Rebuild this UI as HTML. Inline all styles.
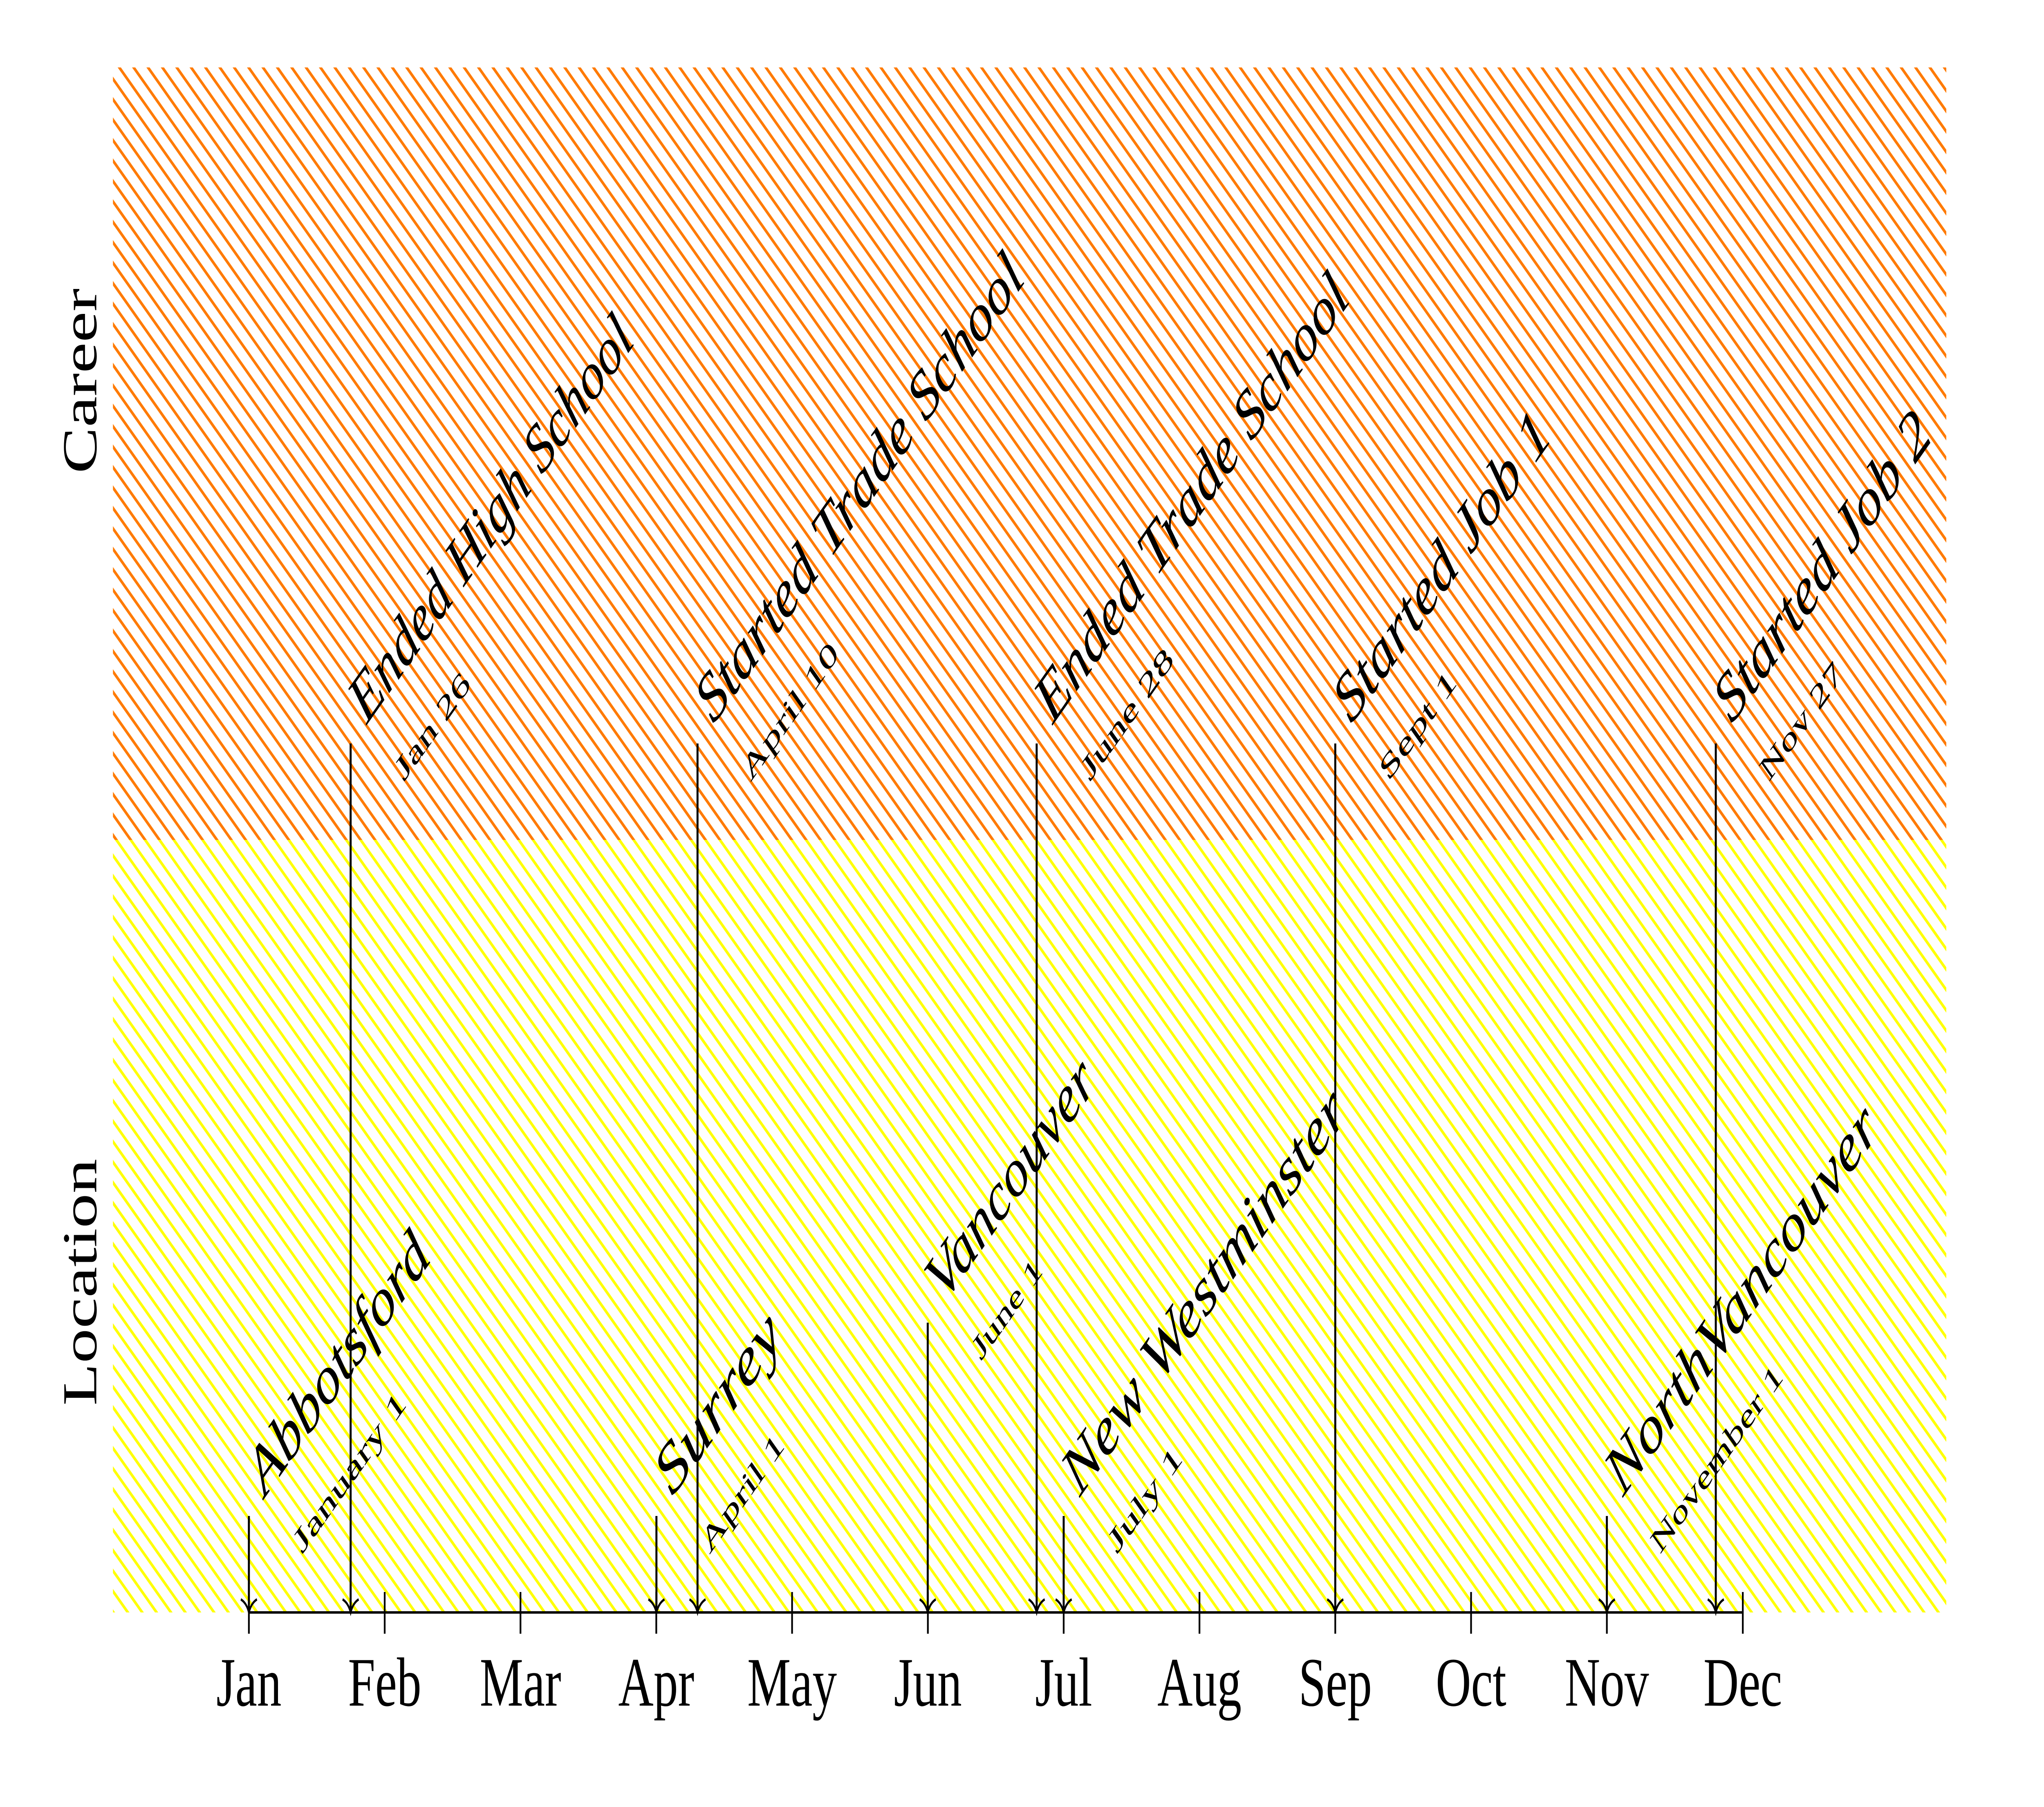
<!DOCTYPE html>
<html><head><meta charset="utf-8"><style>
html,body{margin:0;padding:0;background:#fff;width:100%;height:100%;overflow:hidden;}
svg{display:block;position:fixed;left:0;top:0;width:100vw;height:100vh;}
.m{font-family:"Liberation Serif",serif;font-style:italic;font-size:165px;fill:#000;}
.d{font-family:"Liberation Serif",serif;font-size:82px;fill:#000;}
.ax{font-family:"Liberation Serif",serif;font-size:170px;fill:#000;}
</style></head><body>
<svg viewBox="0 0 7112 4421" preserveAspectRatio="none" xmlns="http://www.w3.org/2000/svg" overflow="hidden">
<defs>
<pattern id="po" patternUnits="userSpaceOnUse" width="50" height="50">
<path d="M-10,-10 L60,60 M-60,-10 L10,60 M40,-10 L110,60" stroke="#ff7a00" stroke-width="8"/>
</pattern>
<pattern id="py" patternUnits="userSpaceOnUse" width="50" height="50">
<path d="M-10,-10 L60,60 M-60,-10 L10,60 M40,-10 L110,60" stroke="#ffff00" stroke-width="8"/>
</pattern>
</defs>
<rect x="0" y="0" width="7112" height="4421" fill="#fff"/>
<rect x="393" y="165" width="6379" height="1890" fill="url(#po)"/>
<rect x="393" y="2055" width="6379" height="1890" fill="url(#py)"/>

<text class="ax" transform="translate(335,932) rotate(-90)" text-anchor="middle">Career</text>
<text class="ax" transform="translate(335,3137) rotate(-90)" text-anchor="middle">Location</text>

<line x1="866" y1="3945" x2="6064" y2="3945" stroke="#000" stroke-width="6"/>
<g stroke="#000" stroke-width="6">
<line x1="866" y1="3895" x2="866" y2="3997"/>
<line x1="1338.5" y1="3895" x2="1338.5" y2="3997"/>
<line x1="1811" y1="3895" x2="1811" y2="3997"/>
<line x1="2283.5" y1="3895" x2="2283.5" y2="3997"/>
<line x1="2756" y1="3895" x2="2756" y2="3997"/>
<line x1="3228.5" y1="3895" x2="3228.5" y2="3997"/>
<line x1="3701" y1="3895" x2="3701" y2="3997"/>
<line x1="4173.5" y1="3895" x2="4173.5" y2="3997"/>
<line x1="4646" y1="3895" x2="4646" y2="3997"/>
<line x1="5118.5" y1="3895" x2="5118.5" y2="3997"/>
<line x1="5591" y1="3895" x2="5591" y2="3997"/>
<line x1="6064" y1="3895" x2="6064" y2="3997"/>
</g>
<g class="ax" text-anchor="middle">
<text x="866" y="4173">Jan</text>
<text x="1338.5" y="4173">Feb</text>
<text x="1811" y="4173">Mar</text>
<text x="2283.5" y="4173">Apr</text>
<text x="2756" y="4173">May</text>
<text x="3228.5" y="4173">Jun</text>
<text x="3701" y="4173">Jul</text>
<text x="4173.5" y="4173">Aug</text>
<text x="4646" y="4173">Sep</text>
<text x="5118.5" y="4173">Oct</text>
<text x="5591" y="4173">Nov</text>
<text x="6064" y="4173">Dec</text>
</g>

<g stroke="#000" stroke-width="7" fill="none">
<line x1="1220" y1="1819" x2="1220" y2="3945"/>
<line x1="2427" y1="1819" x2="2427" y2="3945"/>
<line x1="3607" y1="1819" x2="3607" y2="3945"/>
<line x1="4646" y1="1819" x2="4646" y2="3945"/>
<line x1="5970" y1="1819" x2="5970" y2="3945"/>
<line x1="866" y1="3709" x2="866" y2="3945"/>
<line x1="2284" y1="3709" x2="2284" y2="3945"/>
<line x1="3228" y1="3236" x2="3228" y2="3945"/>
<line x1="3701" y1="3709" x2="3701" y2="3945"/>
<line x1="5591" y1="3709" x2="5591" y2="3945"/>
</g>
<g stroke="#000" stroke-width="6" fill="none">
<path d="M1192,3913 Q1212,3922 1220,3945 Q1228,3922 1248,3913"/>
<path d="M2399,3913 Q2419,3922 2427,3945 Q2435,3922 2455,3913"/>
<path d="M3579,3913 Q3599,3922 3607,3945 Q3615,3922 3635,3913"/>
<path d="M4618,3913 Q4638,3922 4646,3945 Q4654,3922 4674,3913"/>
<path d="M5942,3913 Q5962,3922 5970,3945 Q5978,3922 5998,3913"/>
<path d="M838,3913 Q858,3922 866,3945 Q874,3922 894,3913"/>
<path d="M2256,3913 Q2276,3922 2284,3945 Q2292,3922 2312,3913"/>
<path d="M3200,3913 Q3220,3922 3228,3945 Q3236,3922 3256,3913"/>
<path d="M3673,3913 Q3693,3922 3701,3945 Q3709,3922 3729,3913"/>
<path d="M5563,3913 Q5583,3922 5591,3945 Q5599,3922 5619,3913"/>
</g>

<text class="m" transform="translate(1276,1774) rotate(-45)" textLength="1325" lengthAdjust="spacingAndGlyphs">Ended High School</text>
<text class="d" transform="translate(1405,1914) rotate(-45)" textLength="335" lengthAdjust="spacingAndGlyphs">Jan 26</text>
<text class="m" transform="translate(2483,1774) rotate(-45)" textLength="1540" lengthAdjust="spacingAndGlyphs">Started Trade School</text>
<text class="d" transform="translate(2612,1914) rotate(-45)" textLength="440" lengthAdjust="spacingAndGlyphs">April 10</text>
<text class="m" transform="translate(3663,1774) rotate(-45)" textLength="1470" lengthAdjust="spacingAndGlyphs">Ended Trade School</text>
<text class="d" transform="translate(3792,1914) rotate(-45)" textLength="420" lengthAdjust="spacingAndGlyphs">June 28</text>
<text class="m" transform="translate(4702,1774) rotate(-45)" textLength="995" lengthAdjust="spacingAndGlyphs">Started Job 1</text>
<text class="d" transform="translate(4831,1914) rotate(-45)" textLength="343" lengthAdjust="spacingAndGlyphs">Sept 1</text>
<text class="m" transform="translate(6026,1774) rotate(-45)" textLength="995" lengthAdjust="spacingAndGlyphs">Started Job 2</text>
<text class="d" transform="translate(6155,1914) rotate(-45)" textLength="370" lengthAdjust="spacingAndGlyphs">Nov 27</text>

<text class="m" transform="translate(922,3664) rotate(-45)" textLength="825" lengthAdjust="spacingAndGlyphs">Abbotsford</text>
<text class="d" transform="translate(1051,3804) rotate(-45)" textLength="520" lengthAdjust="spacingAndGlyphs">January 1</text>
<text class="m" transform="translate(2340,3664) rotate(-45)" textLength="552" lengthAdjust="spacingAndGlyphs">Surrey</text>
<text class="d" transform="translate(2469,3804) rotate(-45)" textLength="375" lengthAdjust="spacingAndGlyphs">April 1</text>
<text class="m" transform="translate(3284,3190) rotate(-45)" textLength="760" lengthAdjust="spacingAndGlyphs">Vancouver</text>
<text class="d" transform="translate(3413,3331) rotate(-45)" textLength="310" lengthAdjust="spacingAndGlyphs">June 1</text>
<text class="m" transform="translate(3757,3664) rotate(-45)" textLength="1325" lengthAdjust="spacingAndGlyphs">New Westminster</text>
<text class="d" transform="translate(3886,3804) rotate(-45)" textLength="330" lengthAdjust="spacingAndGlyphs">July 1</text>
<text class="m" transform="translate(5647,3664) rotate(-45)" textLength="1270" lengthAdjust="spacingAndGlyphs">NorthVancouver</text>
<text class="d" transform="translate(5776,3804) rotate(-45)" textLength="612" lengthAdjust="spacingAndGlyphs">November 1</text>
</svg>
</body></html>
